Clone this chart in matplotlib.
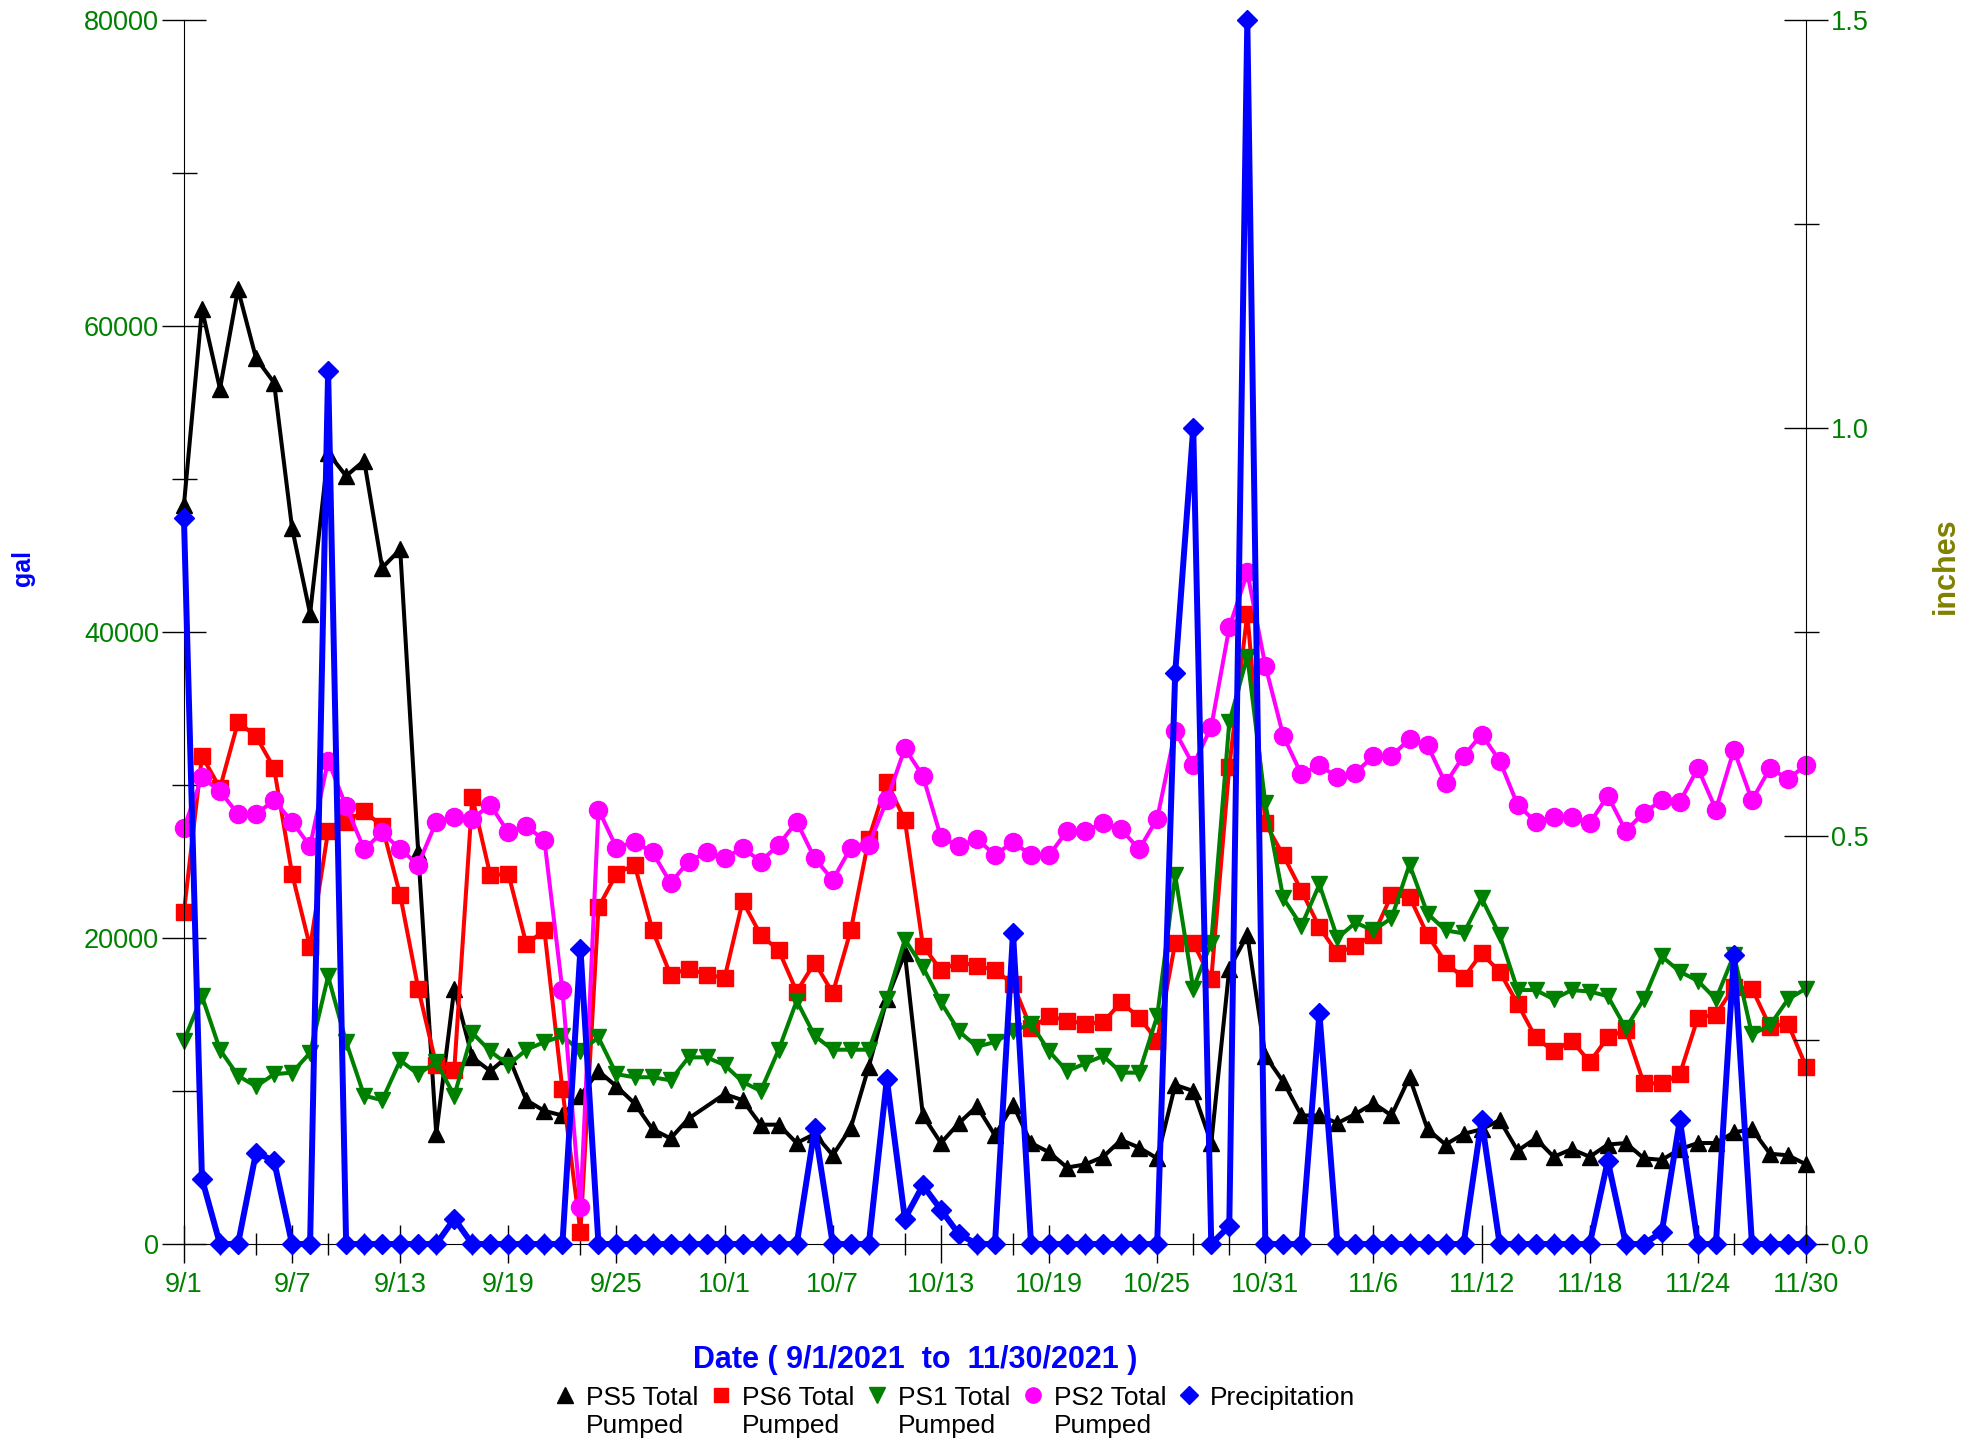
import numpy as np
import pandas as pd
import matplotlib
matplotlib.use('Agg')
import matplotlib.pyplot as plt
from matplotlib.lines import Line2D
from matplotlib.ticker import MultipleLocator

plt.rcParams['font.family'] = ['Liberation Sans', 'DejaVu Sans']

dates = pd.date_range('2021-09-01', '2021-11-30', freq='D')

# gallons per day (PS5 has no value on 9/30)
ps5 = [48300, 61100, 55900, 62400, 57900, 56300, 46800, 41200, 51700, 50200,
       51200, 44200, 45400, 25600, 7200, 16700, 12200, 11300, 12300, 9400,
       8700, 8400, 9700, 11300, 10300, 9200, 7500, 6900, 8200, np.nan,
       9800, 9400, 7800, 7800, 6600, 7200, 5800, 7600, 11600, 16000,
       19000, 8400, 6600, 7900, 9000, 7100, 9100, 6600, 6000, 5000,
       5200, 5700, 6800, 6300, 5600, 10400, 10000, 6600, 18000, 20200,
       12300, 10600, 8400, 8400, 7900, 8500, 9200, 8400, 10900, 7500,
       6500, 7200, 7500, 8100, 6100, 6900, 5700, 6200, 5700, 6500,
       6600, 5600, 5500, 6200, 6600, 6600, 7300, 7500, 5900, 5800, 5200]
ps6 = [21700, 31900, 29800, 34100, 33200, 31100, 24200, 19400, 27000, 27600,
       28300, 27300, 22800, 16700, 11700, 11400, 29200, 24100, 24200, 19600,
       20500, 10100, 800, 22000, 24200, 24800, 20500, 17600, 18000, 17600,
       17400, 22400, 20200, 19200, 16500, 18400, 16400, 20500, 26500, 30200,
       27700, 19500, 17900, 18400, 18200, 17900, 17000, 14100, 14900, 14600,
       14400, 14500, 15800, 14800, 13300, 19700, 19700, 17300, 31200, 41200,
       27500, 25400, 23100, 20700, 19000, 19500, 20200, 22800, 22700, 20200,
       18400, 17400, 19000, 17800, 15700, 13500, 12600, 13300, 11900, 13500,
       14000, 10500, 10500, 11100, 14800, 15000, 16800, 16700, 14200, 14400, 11600]
ps1 = [13300, 16200, 12700, 11000, 10300, 11100, 11200, 12500, 17500, 13200,
       9700, 9400, 12000, 11100, 11900, 9700, 13800, 12600, 11700, 12700,
       13200, 13600, 12600, 13500, 11100, 10900, 10900, 10700, 12200, 12200,
       11700, 10600, 10000, 12700, 15900, 13600, 12700, 12700, 12700, 16000,
       19900, 18100, 15800, 13900, 12900, 13200, 13900, 14400, 12600, 11300,
       11800, 12300, 11200, 11200, 14900, 24100, 16700, 19700, 34100, 38400,
       28800, 22600, 20800, 23500, 20000, 21000, 20500, 21300, 24800, 21600,
       20500, 20300, 22600, 20200, 16600, 16600, 16000, 16600, 16500, 16200,
       14100, 16000, 18800, 17800, 17200, 16000, 18900, 13700, 14300, 16000, 16700]
ps2 = [27200, 30500, 29600, 28100, 28100, 29000, 27600, 26000, 31600, 28600,
       25800, 26900, 25800, 24800, 27600, 27900, 27800, 28700, 26900, 27300,
       26400, 16600, 2400, 28400, 25900, 26300, 25600, 23600, 25000, 25600,
       25200, 25900, 25000, 26100, 27600, 25200, 23800, 25900, 26100, 29000,
       32400, 30600, 26600, 26000, 26500, 25400, 26300, 25400, 25400, 27000,
       27000, 27500, 27100, 25800, 27800, 33500, 31300, 33800, 40300, 43900,
       37800, 33200, 30700, 31300, 30500, 30800, 31900, 31900, 33000, 32600,
       30100, 31900, 33300, 31600, 28700, 27600, 27900, 27900, 27500, 29300,
       27000, 28200, 29000, 28900, 31100, 28400, 32300, 29000, 31100, 30400, 31300]
# inches per day
precip = [0.89, 0.08, 0, 0, 0.112, 0.102, 0, 0, 1.07, 0,
          0, 0, 0, 0, 0, 0.031, 0, 0, 0, 0,
          0, 0, 0.362, 0, 0, 0, 0, 0, 0, 0,
          0, 0, 0, 0, 0, 0.142, 0, 0, 0, 0.202,
          0.031, 0.072, 0.042, 0.012, 0, 0, 0.381, 0, 0, 0,
          0, 0, 0, 0, 0, 0.70, 1.0, 0, 0.022, 1.5,
          0, 0, 0, 0.283, 0, 0, 0, 0, 0, 0,
          0, 0, 0.152, 0, 0, 0, 0, 0, 0, 0.102,
          0, 0, 0.015, 0.152, 0, 0, 0.354, 0, 0, 0, 0]

names = ['PS5 Total\nPumped', 'PS6 Total\nPumped', 'PS1 Total\nPumped',
         'PS2 Total\nPumped', 'Precipitation']
GREEN = '#008000'

fig = plt.figure(figsize=(19.65, 14.42), dpi=100)
ax = fig.add_axes([0.0936, 0.1373, 0.8255, 0.8488])


def draw(a, y, color, marker, ms, lw):
    y = np.asarray(y, float)
    ok = ~np.isnan(y)
    a.plot(dates[ok], y[ok], color=color, marker=marker, ms=ms, lw=lw,
           clip_on=False)


draw(ax, ps5, 'black', '^', 12, 2.9)
draw(ax, ps6, 'red', 's', 12, 2.9)
draw(ax, ps1, GREEN, 'v', 12, 2.9)
draw(ax, ps2, 'magenta', 'o', 13, 2.9)

ax.set_xlim(dates[0], dates[-1])
ax.set_ylim(0, 80000)
ax.set_yticks(np.arange(0, 80001, 20000))
ax.yaxis.set_minor_locator(MultipleLocator(10000))
ax.set_xticks(dates[::6])
ax.set_xticklabels([f'{d.month}/{d.day}' for d in dates[::6]])
ax.set_xticks(dates[::2], minor=True)

ax.tick_params(axis='y', which='major', direction='inout', length=32, width=1,
               labelsize=19.5, labelcolor=GREEN, pad=2)
ax.tick_params(axis='y', which='minor', direction='inout', length=18, width=1)
ax.tick_params(axis='x', which='major', direction='inout', length=27, width=1,
               labelsize=19.5, labelcolor=GREEN, pad=7)
ax.tick_params(axis='x', which='minor', direction='inout', length=16, width=1)
ax.spines['top'].set_visible(False)
ax.spines['right'].set_visible(False)

ax2 = ax.twinx()
draw(ax2, precip, 'blue', 'D', 10, 4.3)
ax2.set_ylim(0, 1.5)
ax2.set_yticks([0, 0.5, 1.0, 1.5])
ax2.set_yticklabels(['0.0', '0.5', '1.0', '1.5'])
ax2.yaxis.set_minor_locator(MultipleLocator(0.25))
ax2.tick_params(axis='y', which='major', direction='inout', length=32, width=1,
                labelsize=19.5, labelcolor=GREEN, pad=2)
ax2.tick_params(axis='y', which='minor', direction='inout', length=18, width=1)
for s in ['top', 'left', 'bottom']:
    ax2.spines[s].set_visible(False)

fig.text(23 / 1965, 1 - 568 / 1442, 'gal', rotation=90, color='blue',
         fontweight='bold', fontsize=18, ha='center', va='center')
fig.text(1946 / 1965, 1 - 566 / 1442, 'inches', rotation=90, color='#808000',
         fontweight='bold', fontsize=22, ha='center', va='center')
fig.text(915 / 1965, 1 - 1360 / 1442, 'Date ( 9/1/2021  to  11/30/2021 )',
         color='blue', fontweight='bold', fontsize=22, ha='center', va='center')

handles = [Line2D([], [], ls='none', marker='^', color='black', ms=11),
           Line2D([], [], ls='none', marker='s', color='red', ms=10),
           Line2D([], [], ls='none', marker='v', color=GREEN, ms=11),
           Line2D([], [], ls='none', marker='o', color='magenta', ms=11),
           Line2D([], [], ls='none', marker='D', color='blue', ms=9)]
leg = fig.legend(handles, names, loc='upper center',
                 bbox_to_anchor=(955 / 1965, 1 - 1386 / 1442), ncol=5,
                 frameon=False, fontsize=19, handlelength=0.8,
                 handletextpad=0.4, columnspacing=0.45, borderpad=0,
                 borderaxespad=0)
# keep marker next to the first line of two-line labels
leg._legend_handle_box.align = 'top'
for col in leg._legend_handle_box.get_children():
    for item in col.get_children():
        item.align = 'top'

fig.savefig('out.png', dpi=100)
